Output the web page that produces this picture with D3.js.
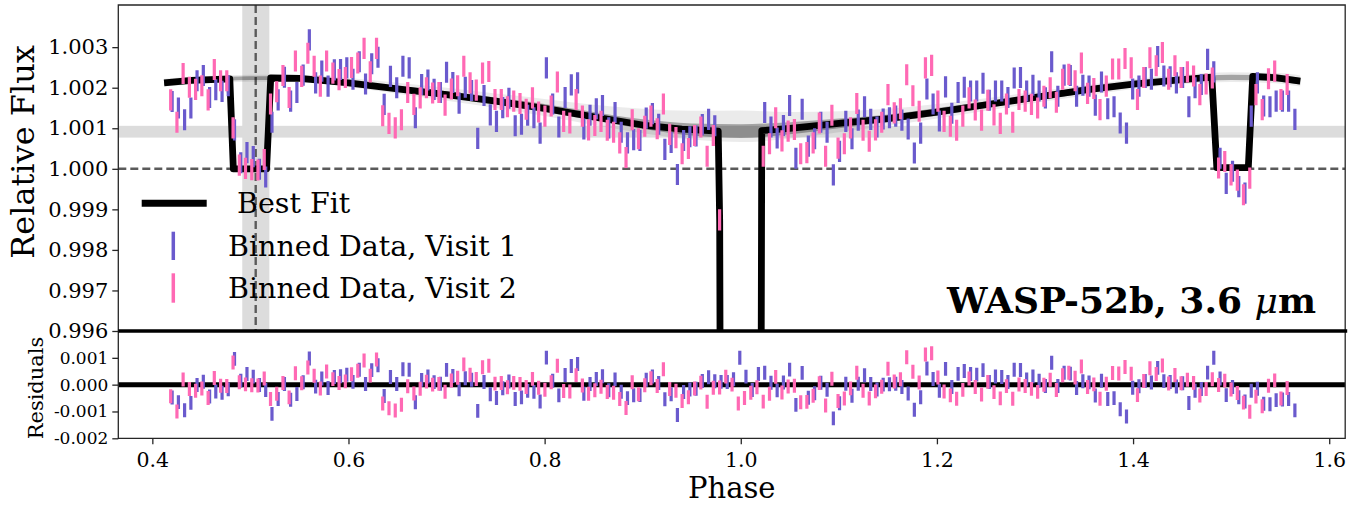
<!DOCTYPE html>
<html>
<head>
<meta charset="utf-8">
<script src="https://cdn.jsdelivr.net/npm/d3@7"></script>
<style>
  body { margin: 0; background: #fff; }
  text { font-family: "DejaVu Serif", serif; fill: #000; }
</style>
</head>
<body>
<div id="app"></div>
<script>
// ---- data ----
var fluxTicks = [0.996, 0.997, 0.998, 0.999, 1.000, 1.001, 1.002, 1.003];
var residTicks = [-0.002, -0.001, 0.000, 0.001];
var phaseTicks = [0.4, 0.6, 0.8, 1.0, 1.2, 1.4, 1.6];

// visit 1 (blue)
var visit1Phase = [
  0.4202, 0.4266, 0.4329, 0.4393, 0.4456, 0.4520, 0.4584, 0.4647, 0.4711, 0.4774,
  0.4838, 0.4902, 0.4965, 0.5029, 0.5092, 0.5156, 0.5220, 0.5283, 0.5347, 0.5410,
  0.5474, 0.5538, 0.5601, 0.5665, 0.5728, 0.5792, 0.5856, 0.5919, 0.5983, 0.6046,
  0.6110, 0.6174, 0.6237, 0.6301, 0.6364, 0.6428, 0.6492, 0.6555, 0.6619, 0.6682,
  0.6746, 0.6810, 0.6873, 0.6937, 0.7000, 0.7064, 0.7128, 0.7191, 0.7255, 0.7318,
  0.7382, 0.7446, 0.7509, 0.7573, 0.7636, 0.7700, 0.7764, 0.7827, 0.7891, 0.7954,
  0.8018, 0.8082, 0.8145, 0.8209, 0.8272, 0.8336, 0.8400, 0.8463, 0.8527, 0.8590,
  0.8654, 0.8718, 0.8781, 0.8845, 0.8908, 0.8972, 0.9036, 0.9099, 0.9163, 0.9226,
  0.9290, 0.9354, 0.9417, 0.9481, 0.9544, 0.9608, 0.9672, 0.9735, 0.9799, 0.9862,
  0.9926, 0.9990, 1.0053, 1.0117, 1.0180, 1.0244, 1.0308, 1.0371, 1.0435, 1.0498,
  1.0562, 1.0626, 1.0689, 1.0753, 1.0816, 1.0880, 1.0944, 1.1007, 1.1071, 1.1134,
  1.1198, 1.1262, 1.1325, 1.1389, 1.1452, 1.1516, 1.1580, 1.1643, 1.1707, 1.1770,
  1.1834, 1.1898, 1.1961, 1.2025, 1.2088, 1.2152, 1.2216, 1.2279, 1.2343, 1.2406,
  1.2470, 1.2534, 1.2597, 1.2661, 1.2724, 1.2788, 1.2852, 1.2915, 1.2979, 1.3042,
  1.3106, 1.3170, 1.3233, 1.3297, 1.3360, 1.3424, 1.3488, 1.3551, 1.3615, 1.3678,
  1.3742, 1.3806, 1.3869, 1.3933, 1.3996, 1.4060, 1.4124, 1.4187, 1.4251, 1.4314,
  1.4378, 1.4442, 1.4505, 1.4569, 1.4632, 1.4696, 1.4760, 1.4823, 1.4887, 1.4950,
  1.5014, 1.5078, 1.5141, 1.5205, 1.5268, 1.5332, 1.5396, 1.5459, 1.5523, 1.5586,
  1.5650
];
var visit1Flux = [
  1.00166, 1.00150, 1.00121, 1.00150, 1.00217, 1.00230, 1.00176, 1.00195, 1.00191, 1.00205,
  1.00096, 1.00015, 1.00040, 1.00030, 0.99999, 0.99980, 1.00115, 1.00170, 1.00226, 1.00167,
  1.00188, 1.00231, 1.00318, 1.00212, 1.00241, 1.00204, 1.00244, 1.00245, 1.00249, 1.00221,
  1.00264, 1.00209, 1.00259, 1.00275, 1.00159, 1.00228, 1.00200, 1.00253, 1.00249, 1.00126,
  1.00208, 1.00219, 1.00196, 1.00188, 1.00238, 1.00213, 1.00162, 1.00201, 1.00193, 1.00075,
  1.00181, 1.00133, 1.00117, 1.00151, 1.00174, 1.00106, 1.00110, 1.00132, 1.00126, 1.00088,
  1.00249, 1.00160, 1.00103, 1.00176, 1.00207, 1.00212, 1.00098, 1.00132, 1.00148, 1.00156,
  1.00101, 1.00139, 1.00090, 1.00064, 1.00072, 1.00070, 1.00125, 1.00136, 1.00110, 1.00048,
  1.00065, 0.99986, 1.00070, 1.00079, 1.00081, 1.00109, 1.00122, 1.00106, 0.98737, 0.97430,
  0.97440, 0.97520, 0.97450, 0.97400, 0.97460, 1.00139, 1.00103, 1.00076, 1.00107, 1.00156,
  1.00026, 1.00147, 1.00056, 1.00074, 1.00115, 1.00090, 0.99985, 1.00043, 1.00117, 1.00074,
  1.00120, 1.00153, 1.00122, 1.00103, 1.00123, 1.00126, 1.00130, 1.00120, 1.00098, 1.00039,
  1.00088, 1.00197, 1.00160, 1.00118, 1.00202, 1.00137, 1.00188, 1.00201, 1.00192, 1.00192,
  1.00211, 1.00169, 1.00192, 1.00192, 1.00176, 1.00224, 1.00225, 1.00192, 1.00206, 1.00192,
  1.00175, 1.00264, 1.00179, 1.00231, 1.00230, 1.00179, 1.00206, 1.00204, 1.00157, 1.00214,
  1.00148, 1.00153, 1.00113, 1.00088, 1.00197, 1.00204, 1.00225, 1.00221, 1.00277, 1.00229,
  1.00227, 1.00212, 1.00225, 1.00153, 1.00200, 1.00208, 1.00270, 1.00239, 1.00026, 0.99964,
  0.99994, 0.99956, 0.99940, 1.00130, 1.00212, 1.00155, 1.00153, 1.00167, 1.00167, 1.00167,
  1.00122
];

// visit 2 (pink)
var visit2Phase = [
  0.4187, 0.4251, 0.4314, 0.4378, 0.4441, 0.4505, 0.4569, 0.4632, 0.4696, 0.4759,
  0.4823, 0.4887, 0.4950, 0.5014, 0.5077, 0.5141, 0.5205, 0.5268, 0.5332, 0.5395,
  0.5459, 0.5523, 0.5586, 0.5650, 0.5713, 0.5777, 0.5841, 0.5904, 0.5968, 0.6031,
  0.6095, 0.6159, 0.6222, 0.6286, 0.6349, 0.6413, 0.6477, 0.6540, 0.6604, 0.6667,
  0.6731, 0.6795, 0.6858, 0.6922, 0.6985, 0.7049, 0.7113, 0.7176, 0.7240, 0.7303,
  0.7367, 0.7431, 0.7494, 0.7558, 0.7621, 0.7685, 0.7749, 0.7812, 0.7876, 0.7939,
  0.8003, 0.8067, 0.8130, 0.8194, 0.8257, 0.8321, 0.8385, 0.8448, 0.8512, 0.8575,
  0.8639, 0.8703, 0.8766, 0.8830, 0.8893, 0.8957, 0.9021, 0.9084, 0.9148, 0.9211,
  0.9275, 0.9339, 0.9402, 0.9466, 0.9529, 0.9593, 0.9657, 0.9720, 0.9784, 0.9847,
  0.9911, 0.9975, 1.0038, 1.0102, 1.0165, 1.0229, 1.0293, 1.0356, 1.0420, 1.0483,
  1.0547, 1.0611, 1.0674, 1.0738, 1.0801, 1.0865, 1.0929, 1.0992, 1.1056, 1.1119,
  1.1183, 1.1247, 1.1310, 1.1374, 1.1437, 1.1501, 1.1565, 1.1628, 1.1692, 1.1755,
  1.1819, 1.1883, 1.1946, 1.2010, 1.2073, 1.2137, 1.2201, 1.2264, 1.2328, 1.2391,
  1.2455, 1.2519, 1.2582, 1.2646, 1.2709, 1.2773, 1.2837, 1.2900, 1.2964, 1.3027,
  1.3091, 1.3155, 1.3218, 1.3282, 1.3345, 1.3409, 1.3473, 1.3536, 1.3600, 1.3663,
  1.3727, 1.3791, 1.3854, 1.3918, 1.3981, 1.4045, 1.4109, 1.4172, 1.4236, 1.4299,
  1.4363, 1.4427, 1.4490, 1.4554, 1.4617, 1.4681, 1.4745, 1.4808, 1.4872, 1.4935,
  1.4999, 1.5063, 1.5126, 1.5190, 1.5253, 1.5317, 1.5381, 1.5444, 1.5508, 1.5571
];
var visit2Flux = [
  1.00170, 1.00115, 1.00235, 1.00201, 1.00196, 1.00205, 1.00170, 1.00245, 1.00217, 1.00217,
  1.00101, 1.00009, 1.00001, 0.99998, 0.99997, 1.00023, 1.00160, 1.00190, 1.00230, 1.00176,
  1.00266, 1.00228, 1.00285, 1.00253, 1.00204, 1.00266, 1.00236, 1.00220, 1.00225, 1.00250,
  1.00261, 1.00297, 1.00239, 1.00297, 1.00131, 1.00112, 1.00101, 1.00121, 1.00188, 1.00159,
  1.00175, 1.00200, 1.00187, 1.00188, 1.00157, 1.00197, 1.00205, 1.00253, 1.00212, 1.00194,
  1.00236, 1.00240, 1.00171, 1.00171, 1.00153, 1.00167, 1.00161, 1.00147, 1.00175, 1.00140,
  1.00130, 1.00155, 1.00214, 1.00117, 1.00113, 1.00171, 1.00130, 1.00096, 1.00107, 1.00117,
  1.00095, 1.00090, 1.00064, 1.00028, 1.00121, 1.00074, 1.00105, 1.00130, 1.00099, 1.00160,
  1.00085, 1.00077, 1.00037, 1.00050, 1.00082, 1.00103, 1.00031, 1.00082, 0.99874, 0.97450,
  0.97420, 0.97350, 0.97370, 0.97390, 0.97410, 1.00031, 1.00062, 1.00126, 1.00069, 1.00093,
  1.00097, 1.00037, 1.00040, 1.00064, 1.00113, 1.00031, 1.00132, 1.00051, 1.00062, 1.00101,
  1.00161, 1.00095, 1.00068, 1.00096, 1.00115, 1.00183, 1.00138, 1.00148, 1.00232, 1.00180,
  1.00142, 1.00249, 1.00255, 1.00167, 1.00117, 1.00105, 1.00095, 1.00130, 1.00175, 1.00145,
  1.00120, 1.00169, 1.00133, 1.00112, 1.00160, 1.00115, 1.00171, 1.00167, 1.00159, 1.00150,
  1.00179, 1.00200, 1.00164, 1.00221, 1.00233, 1.00217, 1.00261, 1.00186, 1.00198, 1.00146,
  1.00204, 1.00246, 1.00246, 1.00272, 1.00249, 1.00171, 1.00225, 1.00274, 1.00254, 1.00287,
  1.00221, 1.00254, 1.00225, 1.00239, 1.00229, 1.00183, 1.00209, 1.00224, 1.00002, 1.00018,
  0.99985, 0.99972, 0.99936, 0.99977, 1.00183, 1.00146, 1.00222, 1.00241, 1.00171, 1.00208
];

var errVisit1 = 0.00026;
var errVisit2 = 0.00026;

// best fit model (phase curve + eclipses + transit)
var fitPhase = [0.4120, 0.4400, 0.4790, 0.4826, 0.5165, 0.5207, 0.5500, 0.6000, 0.6500, 0.7000,
  0.7500, 0.8000, 0.8500, 0.9000, 0.9400, 0.9770, 0.9785, 0.9815, 1.0185, 1.0214,
  1.0500, 1.1000, 1.1500, 1.2000, 1.2500, 1.3000, 1.3500, 1.4000, 1.4500, 1.4803,
  1.4854, 1.5175, 1.5220, 1.5450, 1.5705];
var fitFlux = [1.00212, 1.00218, 1.00222, 1.00000, 1.00000, 1.00224, 1.00223, 1.00212, 1.00197, 1.00183,
  1.00167, 1.00149, 1.00128, 1.00108, 1.00098, 1.00093, 0.99870, 0.97420, 0.97420, 1.00094,
  1.00100, 1.00112, 1.00124, 1.00140, 1.00158, 1.00176, 1.00194, 1.00209, 1.00220, 1.00226,
  1.00003, 1.00003, 1.00228, 1.00225, 1.00216];

// spread of the posterior sample curves
var samplePhase = [0.412, 0.45, 0.50, 0.55, 0.60, 0.65, 0.70, 0.75, 0.80, 0.85, 0.90, 0.95, 1.00,
  1.05, 1.10, 1.15, 1.20, 1.25, 1.30, 1.35, 1.40, 1.45, 1.50, 1.55, 1.5705];
var sampleLo = [1.00203, 1.00210, 1.00215, 1.00214, 1.00202, 1.00185, 1.00168, 1.00150, 1.00130, 1.00108,
  1.00088, 1.00072, 1.00066, 1.00074, 1.00090, 1.00106, 1.00124, 1.00143, 1.00162, 1.00180,
  1.00197, 1.00209, 1.00214, 1.00210, 1.00203];
var sampleHi = [1.00222, 1.00228, 1.00232, 1.00232, 1.00224, 1.00212, 1.00200, 1.00186, 1.00172, 1.00158,
  1.00148, 1.00143, 1.00144, 1.00140, 1.00142, 1.00148, 1.00160, 1.00174, 1.00190, 1.00206,
  1.00221, 1.00232, 1.00238, 1.00236, 1.00230];
var coreLo = [1.00207, 1.00214, 1.00219, 1.00218, 1.00207, 1.00191, 1.00176, 1.00159, 1.00140, 1.00119,
  1.00099, 1.00082, 1.00076, 1.00085, 1.00100, 1.00115, 1.00131, 1.00150, 1.00168, 1.00186,
  1.00202, 1.00214, 1.00219, 1.00215, 1.00208];
var coreHi = [1.00218, 1.00224, 1.00228, 1.00228, 1.00218, 1.00204, 1.00191, 1.00176, 1.00160, 1.00140,
  1.00122, 1.00112, 1.00110, 1.00115, 1.00124, 1.00134, 1.00150, 1.00166, 1.00183, 1.00200,
  1.00215, 1.00226, 1.00232, 1.00230, 1.00224];

// shaded regions
var eclipseBand = [0.4917, 0.5193];
var eclipseCentre = 0.5054;
var depthBand = [1.00077, 1.00106];

// ---- layout ----
var width = 1359, height = 506;
var plotLeft = 118.3, plotRight = 1345.2, plotTop = 5, plotMid = 331, plotBottom = 438.3;
var blue = "#6a5acd", pink = "#ff69b4";

var x = d3.scaleLinear().domain([0.3653, 1.6163]).range([plotLeft, plotRight]);
var y = d3.scaleLinear().domain([0.996, 1.00404]).range([plotMid, plotTop]);
var yRes = d3.scaleLinear().domain([-0.002, 0.002]).range([plotBottom, plotMid]);

var svg = d3.select("#app").append("svg")
    .attr("width", width)
    .attr("height", height);

var defs = svg.append("defs");
defs.append("clipPath").attr("id", "clipTop").append("rect")
    .attr("x", plotLeft).attr("y", plotTop)
    .attr("width", plotRight - plotLeft).attr("height", plotMid - plotTop);
defs.append("clipPath").attr("id", "clipBottom").append("rect")
    .attr("x", plotLeft).attr("y", plotMid)
    .attr("width", plotRight - plotLeft).attr("height", plotBottom - plotMid);

function modelAt(p) {
    var i = d3.bisectRight(fitPhase, p);
    if (i <= 0) return fitFlux[0];
    if (i >= fitPhase.length) return fitFlux[fitPhase.length - 1];
    var t = (p - fitPhase[i - 1]) / (fitPhase[i] - fitPhase[i - 1]);
    return fitFlux[i - 1] + t * (fitFlux[i] - fitFlux[i - 1]);
}

var topG = svg.append("g").attr("clip-path", "url(#clipTop)");

// bands
topG.append("rect")
    .attr("x", x(eclipseBand[0])).attr("y", plotTop)
    .attr("width", x(eclipseBand[1]) - x(eclipseBand[0]))
    .attr("height", plotMid - plotTop)
    .attr("fill", "#dcdcdc");
topG.append("rect")
    .attr("x", plotLeft).attr("y", y(depthBand[1]))
    .attr("width", plotRight - plotLeft)
    .attr("height", y(depthBand[0]) - y(depthBand[1]))
    .attr("fill", "#dcdcdc");

// dashed references
topG.append("line")
    .attr("x1", plotLeft).attr("x2", plotRight)
    .attr("y1", y(1.0)).attr("y2", y(1.0))
    .attr("stroke", "#5a5a5a").attr("stroke-width", 2.4)
    .attr("stroke-dasharray", "8,4");
topG.append("line")
    .attr("x1", x(eclipseCentre)).attr("x2", x(eclipseCentre))
    .attr("y1", plotTop).attr("y2", plotMid)
    .attr("stroke", "#5a5a5a").attr("stroke-width", 2.4)
    .attr("stroke-dasharray", "8,4");

// sample curves
var idx = d3.range(samplePhase.length);
var outerArea = d3.area()
    .x(function(i) { return x(samplePhase[i]); })
    .y0(function(i) { return y(sampleLo[i]); })
    .y1(function(i) { return y(sampleHi[i]); })
    .curve(d3.curveMonotoneX);
var coreArea = d3.area()
    .x(function(i) { return x(samplePhase[i]); })
    .y0(function(i) { return y(coreLo[i]); })
    .y1(function(i) { return y(coreHi[i]); })
    .curve(d3.curveMonotoneX);
topG.append("path").datum(idx).attr("d", outerArea)
    .attr("fill", "#000").attr("fill-opacity", 0.08);
topG.append("path").datum(idx).attr("d", coreArea)
    .attr("fill", "#000").attr("fill-opacity", 0.3);

// best fit
var fitLine = d3.line()
    .x(function(i) { return x(fitPhase[i]); })
    .y(function(i) { return y(fitFlux[i]); });
topG.append("path").datum(d3.range(fitPhase.length))
    .attr("d", fitLine)
    .attr("fill", "none")
    .attr("stroke", "#000")
    .attr("stroke-width", 6.8)
    .attr("stroke-linejoin", "round");

function drawBars(g, scale, phases, values, err, colour) {
    g.append("g").selectAll("line")
        .data(d3.range(phases.length))
        .enter().append("line")
        .attr("x1", function(i) { return x(phases[i]); })
        .attr("x2", function(i) { return x(phases[i]); })
        .attr("y1", function(i) { return scale(values[i] - err); })
        .attr("y2", function(i) { return scale(values[i] + err); })
        .attr("stroke", colour)
        .attr("stroke-width", 3.2);
}

drawBars(topG, y, visit1Phase, visit1Flux, errVisit1, blue);
drawBars(topG, y, visit2Phase, visit2Flux, errVisit2, pink);

// residual panel
var botG = svg.append("g").attr("clip-path", "url(#clipBottom)");
botG.append("line")
    .attr("x1", plotLeft).attr("x2", plotRight)
    .attr("y1", yRes(0)).attr("y2", yRes(0))
    .attr("stroke", "#000").attr("stroke-width", 5);

var resid1 = visit1Flux.map(function(f, i) { return f - modelAt(visit1Phase[i]); });
var resid2 = visit2Flux.map(function(f, i) { return f - modelAt(visit2Phase[i]); });
drawBars(botG, yRes, visit1Phase, resid1, errVisit1, blue);
drawBars(botG, yRes, visit2Phase, resid2, errVisit2, pink);

// spines
var spine = "#262626";
svg.append("path")
    .attr("d", "M" + plotLeft + "," + plotMid + "V" + plotTop + "H" + plotRight + "V" + plotMid)
    .attr("fill", "none").attr("stroke", spine).attr("stroke-width", 1.3);
svg.append("path")
    .attr("d", "M" + plotLeft + "," + plotMid + "V" + plotBottom + "H" + plotRight + "V" + plotMid)
    .attr("fill", "none").attr("stroke", spine).attr("stroke-width", 1.3);
svg.append("line")
    .attr("x1", plotLeft).attr("x2", plotRight + 2)
    .attr("y1", plotMid).attr("y2", plotMid)
    .attr("stroke", "#000").attr("stroke-width", 3.5);

// axes
function styleAxis(g, size) {
    g.select(".domain").remove();
    g.selectAll(".tick line").attr("stroke", spine).attr("stroke-width", 1.3);
    g.selectAll(".tick text")
        .attr("font-family", "DejaVu Serif, serif")
        .attr("font-size", size)
        .attr("fill", "#000");
}

var yAxisTop = svg.append("g")
    .attr("transform", "translate(" + plotLeft + ",0)")
    .call(d3.axisLeft(y).tickValues(fluxTicks)
        .tickFormat(function(d) { return d.toFixed(3); })
        .tickSize(6).tickPadding(4));
styleAxis(yAxisTop, 21);

var yAxisRes = svg.append("g")
    .attr("transform", "translate(" + plotLeft + ",0)")
    .call(d3.axisLeft(yRes).tickValues(residTicks)
        .tickFormat(function(d) { return d.toFixed(3); })
        .tickSize(6).tickPadding(4));
styleAxis(yAxisRes, 17);

var xAxis = svg.append("g")
    .attr("transform", "translate(0," + plotBottom + ")")
    .call(d3.axisBottom(x).tickValues(phaseTicks)
        .tickFormat(function(d) { return d.toFixed(1); })
        .tickSize(6).tickPadding(8));
styleAxis(xAxis, 20.5);

// axis labels
svg.append("text")
    .attr("transform", "translate(34,152) rotate(-90)")
    .attr("text-anchor", "middle")
    .attr("font-size", 32)
    .text("Relative Flux");
svg.append("text")
    .attr("transform", "translate(43,388) rotate(-90)")
    .attr("text-anchor", "middle")
    .attr("font-size", 21)
    .text("Residuals");
svg.append("text")
    .attr("x", (plotLeft + plotRight) / 2)
    .attr("y", 498)
    .attr("text-anchor", "middle")
    .attr("font-size", 29)
    .text("Phase");

// title inside plot
var title = svg.append("text")
    .attr("x", 1316).attr("y", 313)
    .attr("text-anchor", "end")
    .attr("font-size", 36)
    .attr("font-weight", "bold");
title.append("tspan").text("WASP-52b, 3.6 ");
title.append("tspan").attr("font-style", "italic").attr("font-weight", "normal").text("\u03bc");
title.append("tspan").text("m");

// legend
var legend = svg.append("g");
legend.append("line")
    .attr("x1", 141.7).attr("x2", 206.7)
    .attr("y1", 203.3).attr("y2", 203.3)
    .attr("stroke", "#000").attr("stroke-width", 7);
legend.append("text").attr("x", 237).attr("y", 213.3)
    .attr("font-size", 28.5).text("Best Fit");
legend.append("line")
    .attr("x1", 173.3).attr("x2", 173.3)
    .attr("y1", 231.7).attr("y2", 260)
    .attr("stroke", blue).attr("stroke-width", 3.5);
legend.append("text").attr("x", 228).attr("y", 256)
    .attr("font-size", 28.5).text("Binned Data, Visit 1");
legend.append("line")
    .attr("x1", 173.3).attr("x2", 173.3)
    .attr("y1", 273.3).attr("y2", 302.7)
    .attr("stroke", pink).attr("stroke-width", 3.5);
legend.append("text").attr("x", 228).attr("y", 298.3)
    .attr("font-size", 28.5).text("Binned Data, Visit 2");
</script>
</body>
</html>
